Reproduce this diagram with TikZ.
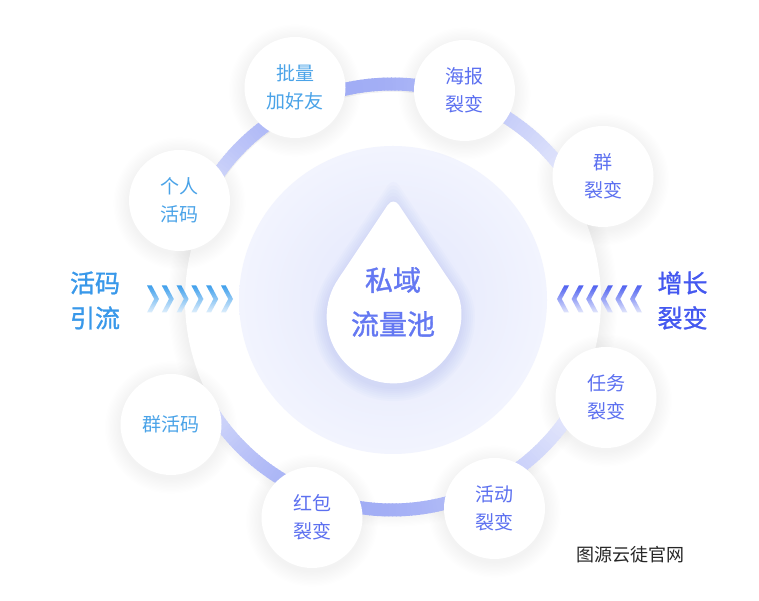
\documentclass[tikz,border=0pt]{standalone}
\usepackage{fontspec}
\setmainfont{Noto Sans CJK SC}
\newfontfamily\cjkmed[FakeBold=1.2]{Noto Sans CJK SC}
\usetikzlibrary{calc}
\definecolor{lblue}{RGB}{64,160,236}
\definecolor{lbluefade}{RGB}{222,238,252}
\definecolor{rblue}{RGB}{80,98,240}
\definecolor{rbluefade}{RGB}{226,230,252}
\definecolor{ctext}{RGB}{100,120,242}
\definecolor{ltext}{RGB}{74,163,232}
\definecolor{rtext}{RGB}{92,112,240}
\definecolor{sidel}{RGB}{56,152,234}
\definecolor{sider}{RGB}{68,88,240}
\definecolor{bandc}{RGB}{160,172,245}
\definecolor{diskin}{RGB}{226,230,252}
\definecolor{diskout}{RGB}{242,244,254}
\definecolor{dropshadow}{RGB}{130,145,235}
\begin{document}
\begin{tikzpicture}[x=1pt,y=1pt,
  bubble/.style={circle, fill=white, minimum size=101pt, inner sep=0pt, align=center, font=\fontsize{19}{28}\selectfont},
  sidelabel/.style={align=center, font=\cjkmed\fontsize{25}{35}\selectfont}]
\useasboundingbox (0,0) rectangle (759,601);
\fill[white] (0,0) rectangle (759,601);
\coordinate (O) at (392,304);
\coordinate (C0) at (393,301);
\coordinate (pA) at (295,513.5);
\coordinate (pB) at (464.5,510.5);
\coordinate (pC) at (603,424.5);
\coordinate (pD) at (606,203.5);
\coordinate (pE) at (494.5,92.5);
\coordinate (pF) at (312,83.5);
\coordinate (pG) at (171,176.5);
\coordinate (pH) at (179.5,400.5);
% halo
\foreach \i in {1,...,14} {\fill[black,opacity=0.0025] ($(C0)+(0,-2)$) circle ({208+\i*1.2});}
\fill[white] (C0) circle (208);
% disk
\shade[inner color=diskin, outer color=diskout] (C0) circle (154);
% drop shadow
\foreach \s in {1.02,1.05,1.08,1.11,1.14,1.17,1.2} {
  \fill[dropshadow,opacity=0.03, shift={(393.3,280)}, scale=\s, rounded corners=10pt]
    (-54.8,38.1) -- (0,120) -- (54.8,38.1) [sharp corners] arc (34.8:-214.8:66.7) -- cycle;
}
% drop
\fill[white, shift={(393.3,284.3)}, rounded corners=10pt]
    (-54.8,38.1) -- (0,120) -- (54.8,38.1) [sharp corners] arc (34.8:-214.8:66.7) -- cycle;
% circle shadows
\foreach \c in {pA,pB,pC,pD,pE,pF,pG,pH} {
  \foreach \i in {1,...,12} {\fill[black,opacity=0.0055] ($(\c)+(0,-3)$) circle ({50.5+\i*1.3});}
}
% ring band
\foreach \a in {26,...,159} {
  \pgfmathtruncatemacro\p{min(100, 100*pow(abs(sin(\a)),1.5)*(0.75-0.25*cos(\a))/0.78)}
  \draw[line width=13pt, color=bandc!\p!white] ($(O)+(\a:213)$) arc (\a:\a+1.3:213);
}
\foreach \a in {-152,...,-23} {
  \pgfmathtruncatemacro\p{min(100, 100*pow(abs(sin(\a)),1.5)*(0.75-0.25*cos(\a))/0.78)}
  \draw[line width=13pt, color=bandc!\p!white] ($(O)+(\a:213)$) arc (\a:\a+1.3:213);
}
% bubbles
\node[bubble, text=ltext] (A) at (pA) {批量\\加好友};
\node[bubble, text=rtext] (B) at (pB) {海报\\裂变};
\node[bubble, text=rtext] (C) at (pC) {群\\裂变};
\node[bubble, text=rtext] (D) at (pD) {任务\\裂变};
\node[bubble, text=rtext] (E) at (pE) {活动\\裂变};
\node[bubble, text=rtext] (F) at (pF) {红包\\裂变};
\node[bubble, text=ltext] (G) at (pG) {群活码};
\node[bubble, text=ltext] (H) at (pH) {个人\\活码};
% center text
\node[align=center, text=ctext, font=\cjkmed\fontsize{28}{44}\selectfont] (core) at (393,299) {私域\\流量池};
% side labels
\node[sidelabel, text=sidel] (lefttxt) at (95,300.5) {活码\\引流};
\node[sidelabel, text=sider] (righttxt) at (682.5,300.5) {增长\\裂变};
% chevrons left
\foreach \i in {0,...,5} {
  \shade[top color=lblue, bottom color=lbluefade, shift={({147+14.8*\i},302)}]
    (0,13.5) -- (4.8,13.5) -- (12,0) -- (4.8,-13.5) -- (0,-13.5) -- (7.2,0) -- cycle;
}
% chevrons right
\foreach \i in {0,...,5} {
  \shade[top color=rblue, bottom color=rbluefade, shift={({557+14.6*\i},302)}]
    (12,13.5) -- (7.2,13.5) -- (0,0) -- (7.2,-13.5) -- (12,-13.5) -- (4.8,0) -- cycle;
}
% watermark
\node[font=\fontsize{18}{20}\selectfont, text=black!85] (wm) at (630,46) {图源云徒官网};
\end{tikzpicture}
\end{document}
